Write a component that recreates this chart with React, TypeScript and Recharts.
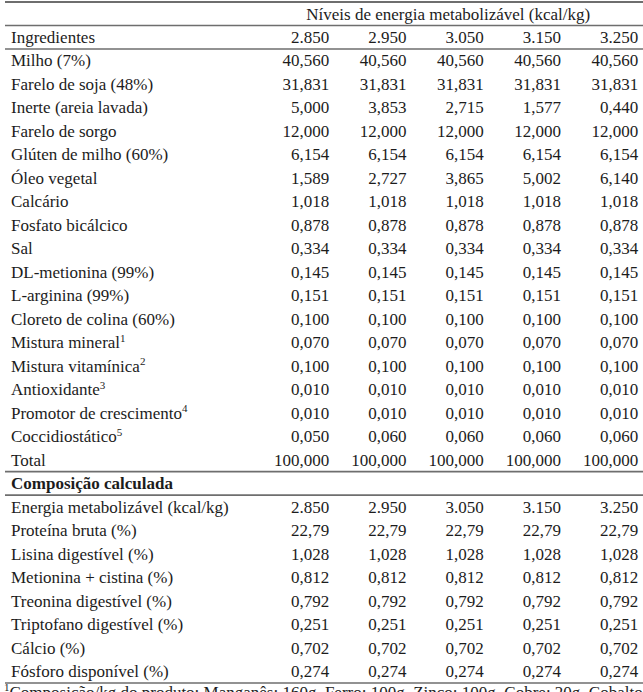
import React from "react";
import { ScatterChart, Scatter, XAxis, YAxis } from "recharts";

const levels = ["2.850", "2.950", "3.050", "3.150", "3.250"];

const ingredients = [
  "Milho (7%)",
  "Farelo de soja (48%)",
  "Inerte (areia lavada)",
  "Farelo de sorgo",
  "Glúten de milho (60%)",
  "Óleo vegetal",
  "Calcário",
  "Fosfato bicálcico",
  "Sal",
  "DL-metionina (99%)",
  "L-arginina (99%)",
  "Cloreto de colina (60%)",
  "Mistura mineral^1",
  "Mistura vitamínica^2",
  "Antioxidante^3",
  "Promotor de crescimento^4",
  "Coccidiostático^5",
  "Total",
];

const col2850 = [40.56, 31.831, 5.0, 12.0, 6.154, 1.589, 1.018, 0.878, 0.334, 0.145, 0.151, 0.1, 0.07, 0.1, 0.01, 0.01, 0.05, 100];
const col2950 = [40.56, 31.831, 3.853, 12.0, 6.154, 2.727, 1.018, 0.878, 0.334, 0.145, 0.151, 0.1, 0.07, 0.1, 0.01, 0.01, 0.06, 100];
const col3050 = [40.56, 31.831, 2.715, 12.0, 6.154, 3.865, 1.018, 0.878, 0.334, 0.145, 0.151, 0.1, 0.07, 0.1, 0.01, 0.01, 0.06, 100];
const col3150 = [40.56, 31.831, 1.577, 12.0, 6.154, 5.002, 1.018, 0.878, 0.334, 0.145, 0.151, 0.1, 0.07, 0.1, 0.01, 0.01, 0.06, 100];
const col3250 = [40.56, 31.831, 0.44, 12.0, 6.154, 6.14, 1.018, 0.878, 0.334, 0.145, 0.151, 0.1, 0.07, 0.1, 0.01, 0.01, 0.06, 100];

const compositionTitle = "Composição calculada";
const composition = [
  "Energia metabolizável (kcal/kg)",
  "Proteína bruta (%)",
  "Lisina digestível (%)",
  "Metionina + cistina (%)",
  "Treonina digestível (%)",
  "Triptofano digestível (%)",
  "Cálcio (%)",
  "Fósforo disponível (%)",
];
// -1 = thousands with a dot (2.850)
const compositionDecimals = [-1, 2, 3, 3, 3, 3, 3, 3];
const comp2850 = [2850, 22.79, 1.028, 0.812, 0.792, 0.251, 0.702, 0.274];
const comp2950 = [2950, 22.79, 1.028, 0.812, 0.792, 0.251, 0.702, 0.274];
const comp3050 = [3050, 22.79, 1.028, 0.812, 0.792, 0.251, 0.702, 0.274];
const comp3150 = [3150, 22.79, 1.028, 0.812, 0.792, 0.251, 0.702, 0.274];
const comp3250 = [3250, 22.79, 1.028, 0.812, 0.792, 0.251, 0.702, 0.274];

const headerTitle = "Níveis de energia metabolizável (kcal/kg)";
const headerLabel = "Ingredientes";
const footnote = "^1Composição/kg do produto: Manganês: 160g, Ferro: 100g, Zinco: 100g, Cobre: 20g, Cobalto: 2g, Iodo: 2g, Selênio: 0,25g";

const ROW_TOP = "__niveis";
const ROW_FOOT = "__nota";

const ingredientCols = [col2850, col2950, col3050, col3150, col3250];
const compositionCols = [comp2850, comp2950, comp3050, comp3150, comp3250];

const rowKeys = [ROW_TOP, headerLabel, ...ingredients, compositionTitle, ...composition, ROW_FOOT];
// rows that get a rule underneath
const rulesBelow = new Set([ROW_TOP, headerLabel, "Total", compositionTitle, composition[composition.length - 1]]);

const W = 643;
const H = 708;
const MARGIN = { top: 2, right: 8.5, bottom: 1.5, left: 0 };
const PITCH = (H - MARGIN.top - MARGIN.bottom) / rowKeys.length;
const FONT = "'Liberation Serif', 'Times New Roman', serif";
const INK = "#1c1c1c";
const RULE = "#6e6e6e";

function fmt(v: number, dec: number): string {
  if (dec === -1) {
    return `${Math.floor(v / 1000)}.${String(Math.round(v % 1000)).padStart(3, "0")}`;
  }
  return v.toFixed(dec).replace(".", ",");
}

function LabelText({ label, x, y, bold }: { label: string; x: number; y: number; bold?: boolean }) {
  const parts = label.split("^");
  // "^1text" (leading superscript) or "text^1" (trailing)
  const before = parts[0];
  let sup = "";
  let after = "";
  if (parts.length > 1) {
    if (before === "") {
      sup = parts[1].charAt(0);
      after = parts[1].slice(1);
    } else {
      sup = parts[1];
    }
  }
  return (
    <text x={x} y={y} dy="0.34em" fill={INK} fontSize={17} fontFamily={FONT} fontWeight={bold ? 700 : 400} textAnchor="start">
      {before}
      {sup && (
        <tspan fontSize={11} dy="-0.6em">{sup}</tspan>
      )}
      {after && <tspan dy="0.39em">{after}</tspan>}
    </text>
  );
}

function RowTick(props: any) {
  const { y, payload } = props;
  const key: string = payload.value;
  const lines: React.ReactNode[] = [];
  if (key === ROW_TOP) {
    lines.push(<line key="top" x1={5} x2={W} y1={y - PITCH / 2} y2={y - PITCH / 2} stroke={RULE} strokeWidth={1.8} />);
  }
  if (rulesBelow.has(key)) {
    lines.push(<line key="below" x1={5} x2={W} y1={y + PITCH / 2} y2={y + PITCH / 2} stroke={RULE} strokeWidth={1.6} />);
  }
  let label: React.ReactNode = null;
  if (key === ROW_FOOT) {
    label = <LabelText label={footnote} x={4} y={y + 3} />;
  } else if (key !== ROW_TOP) {
    label = <LabelText label={key} x={11} y={y} bold={key === compositionTitle} />;
  }
  return (
    <g>
      {lines}
      {label}
    </g>
  );
}

const NumberCell = (props: any) => {
  const { cx, cy, payload } = props;
  return (
    <text x={cx + 42.5} y={cy} dy="0.34em" fill={INK} fontSize={17} fontFamily={FONT} textAnchor="end">
      {payload.text}
    </text>
  );
};

const TitleCell = (props: any) => {
  const { cx, cy, payload } = props;
  return (
    <text x={cx + 7} y={cy} dy="0.34em" fill={INK} fontSize={17} fontFamily={FONT} textAnchor="middle">
      {payload.text}
    </text>
  );
};

const allRows = rowKeys.map((row) => ({ level: levels[0], row }));

const columnData = levels.map((lvl, j) => [
  { level: lvl, row: headerLabel, text: lvl },
  ...ingredients.map((name, i) => ({ level: lvl, row: name, text: fmt(ingredientCols[j][i], 3) })),
  ...composition.map((name, i) => ({ level: lvl, row: name, text: fmt(compositionCols[j][i], compositionDecimals[i]) })),
]);

const titleData = [{ level: levels[2], row: ROW_TOP, text: headerTitle }];

export default function App() {
  return (
    <div style={{ width: W, height: 692, overflow: "hidden", background: "#fff" }}>
      <style>{"body{margin:0;background:#fff}"}</style>
      <ScatterChart width={W} height={H} margin={MARGIN}>
        <XAxis type="category" dataKey="level" hide allowDuplicatedCategory={false} />
        <YAxis
          type="category"
          dataKey="row"
          width={248}
          reversed
          allowDuplicatedCategory={false}
          interval={0}
          axisLine={false}
          tickLine={false}
          tick={<RowTick />}
        />
        <Scatter data={allRows} shape={() => <g />} isAnimationActive={false} />
        {columnData.map((d, j) => (
          <Scatter key={levels[j]} data={d} shape={<NumberCell />} isAnimationActive={false} />
        ))}
        <Scatter data={titleData} shape={<TitleCell />} isAnimationActive={false} />
      </ScatterChart>
    </div>
  );
}
